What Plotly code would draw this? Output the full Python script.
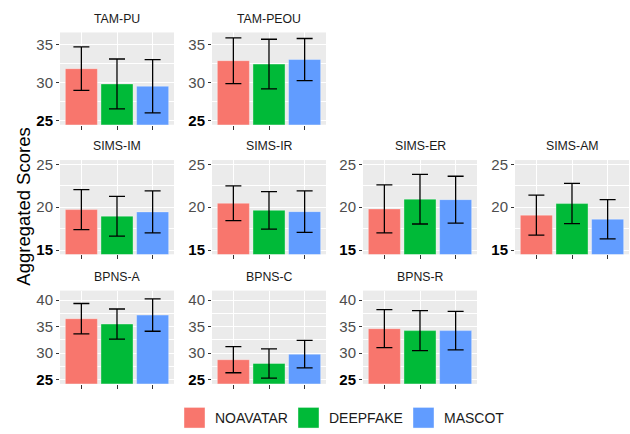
import plotly.graph_objects as go

panels = ["TAM-PU", "TAM-PEOU", "SIMS-IM", "SIMS-IR", "SIMS-ER", "SIMS-AM", "BPNS-A", "BPNS-C", "BPNS-R"]
groups = ["NOAVATAR", "DEEPFAKE", "MASCOT"]
noavatar_mean = [31.8, 32.85, 19.72, 20.46, 19.8, 19.07, 36.5, 28.76, 34.62]
noavatar_err = [2.85, 3.0, 2.33, 2.03, 2.81, 2.33, 2.87, 2.46, 3.58]
deepfake_mean = [29.8, 32.4, 18.95, 19.63, 20.94, 20.42, 35.49, 28.05, 34.25]
deepfake_err = [3.27, 3.26, 2.32, 2.18, 2.9, 2.35, 2.84, 2.75, 3.76]
mascot_mean = [29.5, 33.0, 19.45, 19.48, 20.88, 18.6, 37.18, 29.8, 34.25]
mascot_err = [3.5, 2.76, 2.45, 2.43, 2.73, 2.29, 3.05, 2.6, 3.63]
row_ticks = [[25, 30, 35], [15, 20, 25], [25, 30, 35, 40]]
row_limits = [[25, 36], [15, 25], [25, 41]]
y_title = "Aggregated Scores"

colors = ["#F8766D", "#00BA38", "#619CFF"]
means = [noavatar_mean, deepfake_mean, mascot_mean]
errs = [noavatar_err, deepfake_err, mascot_err]

W, H = 630, 434
panel_pos = [(0, 0), (0, 1), (1, 0), (1, 1), (1, 2), (1, 3), (2, 0), (2, 1), (2, 2)]
col_px = [(60, 174), (212, 326), (363, 477), (515, 629)]
row_px = [(29, 123), (159, 255), (292, 387)]
FONT = "Liberation Sans, Arial, sans-serif"

fig = go.Figure()
layout = {}
annotations = []
for i, name in enumerate(panels):
    r, c = panel_pos[i]
    ax = "" if i == 0 else str(i + 1)
    for g in range(3):
        fig.add_trace(go.Bar(
            x=[groups[g]], y=[means[g][i]], width=0.9,
            marker=dict(color=colors[g], line=dict(color="rgba(255,255,255,0.35)", width=1)),
            error_y=dict(type="data", array=[errs[g][i]], color="black", thickness=1.3, width=8),
            xaxis="x" + ax, yaxis="y" + ax, showlegend=False,
        ))
    x0, x1 = col_px[c]
    y0, y1 = row_px[r]
    lo, hi = row_limits[r]
    pad = (hi - lo) * 0.05
    ticks = row_ticks[r]
    ticktext = [("<span style='color:black'><b>%d</b></span>" % t) if t == ticks[0] else str(t) for t in ticks]
    minor_vals = [(ticks[k] + ticks[k + 1]) / 2 for k in range(len(ticks) - 1)]
    layout["xaxis" + ax] = dict(
        domain=[x0 / W, x1 / W], anchor="y" + ax, type="category",
        categoryorder="array", categoryarray=groups, range=[-0.6, 2.6],
        showticklabels=False, ticks="outside", ticklen=4, tickcolor="#333333",
        showgrid=True, gridcolor="white", gridwidth=1.1, zeroline=False, showline=False,
    )
    layout["yaxis" + ax] = dict(
        domain=[1 - y1 / H, 1 - y0 / H], anchor="x" + ax,
        range=[lo - pad, hi + pad], tickmode="array", tickvals=ticks, ticktext=ticktext,
        ticks="outside", ticklen=3, tickcolor="#333333",
        tickfont=dict(size=15, color="#4D4D4D", family=FONT),
        showgrid=True, gridcolor="white", gridwidth=1.1, zeroline=False, showline=False,
        minor=dict(tickvals=minor_vals, showgrid=True, gridcolor="white", gridwidth=0.5),
    )
    annotations.append(dict(
        text=name, x=(x0 + x1) / 2 / W, y=1 - (y0 - 14) / H, xref="paper", yref="paper",
        showarrow=False, xanchor="center", yanchor="middle",
        font=dict(size=12.3, color="#1A1A1A", family=FONT),
    ))

annotations.append(dict(
    text=y_title, x=23.5 / W, y=1 - 207 / H, xref="paper", yref="paper", textangle=-90,
    showarrow=False, xanchor="center", yanchor="middle", font=dict(size=18.5, color="black", family=FONT),
))

shapes = []
leg_sq = [184, 298, 413]
for g in range(3):
    shapes.append(dict(type="rect", xref="paper", yref="paper",
                       x0=leg_sq[g] / W, x1=(leg_sq[g] + 21) / W, y0=1 - 432 / H, y1=1 - 411 / H,
                       fillcolor=colors[g], line=dict(color="rgba(255,255,255,0.4)", width=1)))
    annotations.append(dict(
        text=groups[g], x=(leg_sq[g] + 29) / W, y=1 - 421.7 / H, xref="paper", yref="paper",
        showarrow=False, xanchor="left", yanchor="middle", font=dict(size=14, color="#1A1A1A", family=FONT),
    ))

fig.update_layout(
    **layout, width=W, height=H, margin=dict(l=0, r=0, t=0, b=0),
    paper_bgcolor="white", plot_bgcolor="#EBEBEB", barmode="overlay",
    annotations=annotations, shapes=shapes, showlegend=False,
    font=dict(family=FONT),
)
fig.write_html("out.html", config={"displayModeBar": False},
               post_script="document.body.style.margin='0';document.body.style.overflow='hidden';")
